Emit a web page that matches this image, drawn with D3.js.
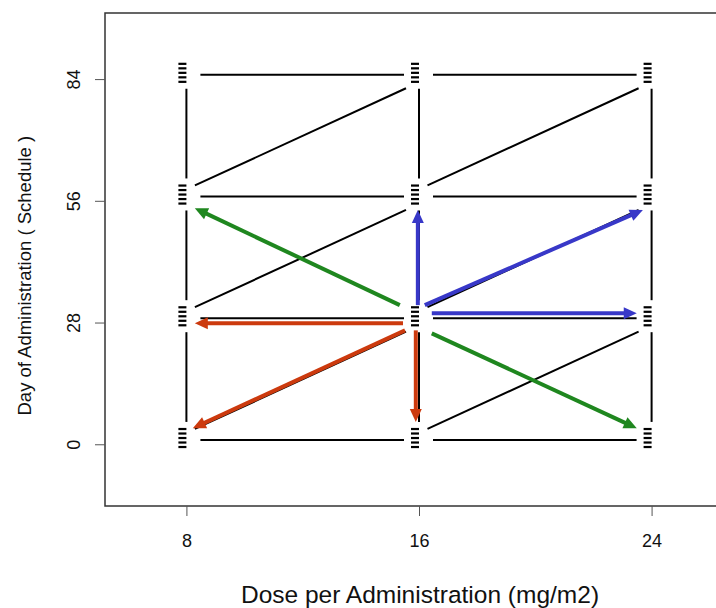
<!DOCTYPE html>
<html>
<head>
<meta charset="utf-8">
<script src="https://cdn.jsdelivr.net/npm/d3@7"></script>
<style>
  html, body { margin: 0; padding: 0; background: #fff; }
  svg { display: block; }
  text { font-family: "Liberation Sans", Arial, sans-serif; fill: #111; }
</style>
</head>
<body>
<svg id="chart" width="716" height="608"></svg>
<script>
// ---------------- data ----------------
const doses = [8, 16, 24];                 // mg/m2 per administration
const days = [1, 29, 57, 85];              // day of administration
const xTickValues = [8, 16, 24];
const yTickValues = [0, 28, 56, 84];
const xLimits = [6, 26];
const yLimits = [-10, 95];

// coloured arrows: start (dose, day) -> end (dose, day)
const arrowGroup    = ["reduce", "increase", "increase", "reduce", "increase", "reduce", "trade", "trade"];
const arrowFromDose = [15.45, 16.44, 15.96, 15.89, 16.20, 15.52, 15.34, 16.44];
const arrowFromDay  = [27.85, 30.15, 32.00, 26.20, 32.00, 26.20, 32.00, 25.50];
const arrowToDose   = [8.29, 23.49, 15.96, 15.89, 23.70, 8.22, 8.29, 23.49];
const arrowToDay    = [27.85, 30.15, 53.90, 5.10, 53.90, 3.70, 54.30, 3.70];

// ---------------- styles ----------------
const groupColor = { reduce: "#cc3a0e", increase: "#3838c8", trade: "#1f871f" };

// ---------------- layout ----------------
const svg = d3.select("#chart");
const W = 716, H = 608;

// scales (R-style 4% axis extension of the limits)
const xPad = (xLimits[1] - xLimits[0]) * 0.04;
const yPad = (yLimits[1] - yLimits[0]) * 0.04;
const x = d3.scaleLinear().domain([xLimits[0] - xPad, xLimits[1] + xPad]).range([105, 733]);
const y = d3.scaleLinear().domain([yLimits[0] - yPad, yLimits[1] + yPad]).range([506, 13]);

const x0 = x.range()[0], x1 = x.range()[1], yB = y.range()[0], yT = y.range()[1];

// plot box
svg.append("rect")
  .attr("x", x0).attr("y", yT)
  .attr("width", x1 - x0).attr("height", yB - yT)
  .attr("fill", "none").attr("stroke", "#333").attr("stroke-width", 1.5);

// x axis
const xAxis = d3.axisBottom(x).tickValues(xTickValues).tickSize(10).tickPadding(18)
  .tickFormat(d3.format("d"));
const gx = svg.append("g").attr("transform", `translate(0,${yB})`).call(xAxis);
gx.select(".domain").remove();
gx.selectAll(".tick line").attr("stroke", "#555");
gx.selectAll(".tick text").attr("font-size", 18).attr("font-family", "Liberation Sans, Arial, sans-serif").attr("fill", "#111");

// y axis (labels rotated like R's default)
const yAxis = d3.axisLeft(y).tickValues(yTickValues).tickSize(10).tickFormat(d3.format("d"));
const gy = svg.append("g").attr("transform", `translate(${x0},0)`).call(yAxis);
gy.select(".domain").remove();
gy.selectAll(".tick line").attr("stroke", "#555");
gy.selectAll(".tick text")
  .attr("font-size", 18).attr("font-family", "Liberation Sans, Arial, sans-serif").attr("fill", "#111")
  .attr("x", null).attr("dy", null)
  .attr("text-anchor", "middle")
  .attr("transform", "translate(-25,0) rotate(-90)");

// axis titles
svg.append("text")
  .attr("x", 420).attr("y", 603)
  .attr("text-anchor", "middle").attr("font-size", 24.5)
  .text("Dose per Administration (mg/m2)");
svg.append("text")
  .attr("transform", `translate(31,${(y(84) + y(0)) / 2 + 14}) rotate(-90)`)
  .attr("text-anchor", "middle").attr("font-size", 18.5)
  .text("Day of Administration ( Schedule )");

// ---------------- black grid connections ----------------
const segs = [];
// horizontal
days.forEach(dy => {
  for (let i = 0; i < doses.length - 1; i++) {
    const ax = x(doses[i]), bx = x(doses[i + 1]), yy = y(dy);
    segs.push([ax + 14, yy, bx - 15, yy]);
  }
});
// vertical (top to bottom)
doses.forEach(ds => {
  for (let j = days.length - 1; j > 0; j--) {
    const xx = x(ds), ay = y(days[j]), by = y(days[j - 1]);
    segs.push([xx, ay + 14, xx, by - 18]);
  }
});
// diagonal (dose up, day up)
for (let i = 0; i < doses.length - 1; i++) {
  for (let j = 0; j < days.length - 1; j++) {
    const ax = x(doses[i]), ay = y(days[j]);
    const bx = x(doses[i + 1]), by = y(days[j + 1]);
    segs.push([ax + 8.5, ay - 11, bx - 13, by + 13.5]);
  }
}
svg.append("g").selectAll("line").data(segs).join("line")
  .attr("x1", d => d[0]).attr("y1", d => d[1])
  .attr("x2", d => d[2]).attr("y2", d => d[3])
  .attr("stroke", "#000").attr("stroke-width", 2);

// ---------------- node markers (stacked dashes) ----------------
const nodes = [];
doses.forEach(ds => days.forEach(dy => nodes.push({ dose: ds, day: dy })));
const gm = svg.append("g");
nodes.forEach(n => {
  const cx = x(n.dose) - 4, cy = y(n.day);
  for (let k = 0; k < 5; k++) {
    gm.append("rect")
      .attr("x", cx - 4).attr("y", cy - 12 + k * 4.5)
      .attr("width", 8).attr("height", 2.2)
      .attr("fill", "#000");
  }
});

// ---------------- coloured arrows ----------------
const arrows = arrowGroup.map((g, i) => ({
  group: g,
  x1: x(arrowFromDose[i]), y1: y(arrowFromDay[i]),
  x2: x(arrowToDose[i]), y2: y(arrowToDay[i])
}));
const ga = svg.append("g");
const headLen = 13, headHalf = 6;
arrows.forEach(a => {
  const dx = a.x2 - a.x1, dy = a.y2 - a.y1;
  const L = Math.hypot(dx, dy), ux = dx / L, uy = dy / L;
  const bx = a.x2 - ux * headLen, by = a.y2 - uy * headLen;
  const col = groupColor[a.group];
  ga.append("line")
    .attr("x1", a.x1).attr("y1", a.y1)
    .attr("x2", bx + ux * 2).attr("y2", by + uy * 2)
    .attr("stroke", col).attr("stroke-width", 4);
  const px = -uy, py = ux;
  ga.append("path")
    .attr("d", `M${a.x2},${a.y2}L${bx + px * headHalf},${by + py * headHalf}L${bx - px * headHalf},${by - py * headHalf}Z`)
    .attr("fill", col);
});
</script>
</body>
</html>
